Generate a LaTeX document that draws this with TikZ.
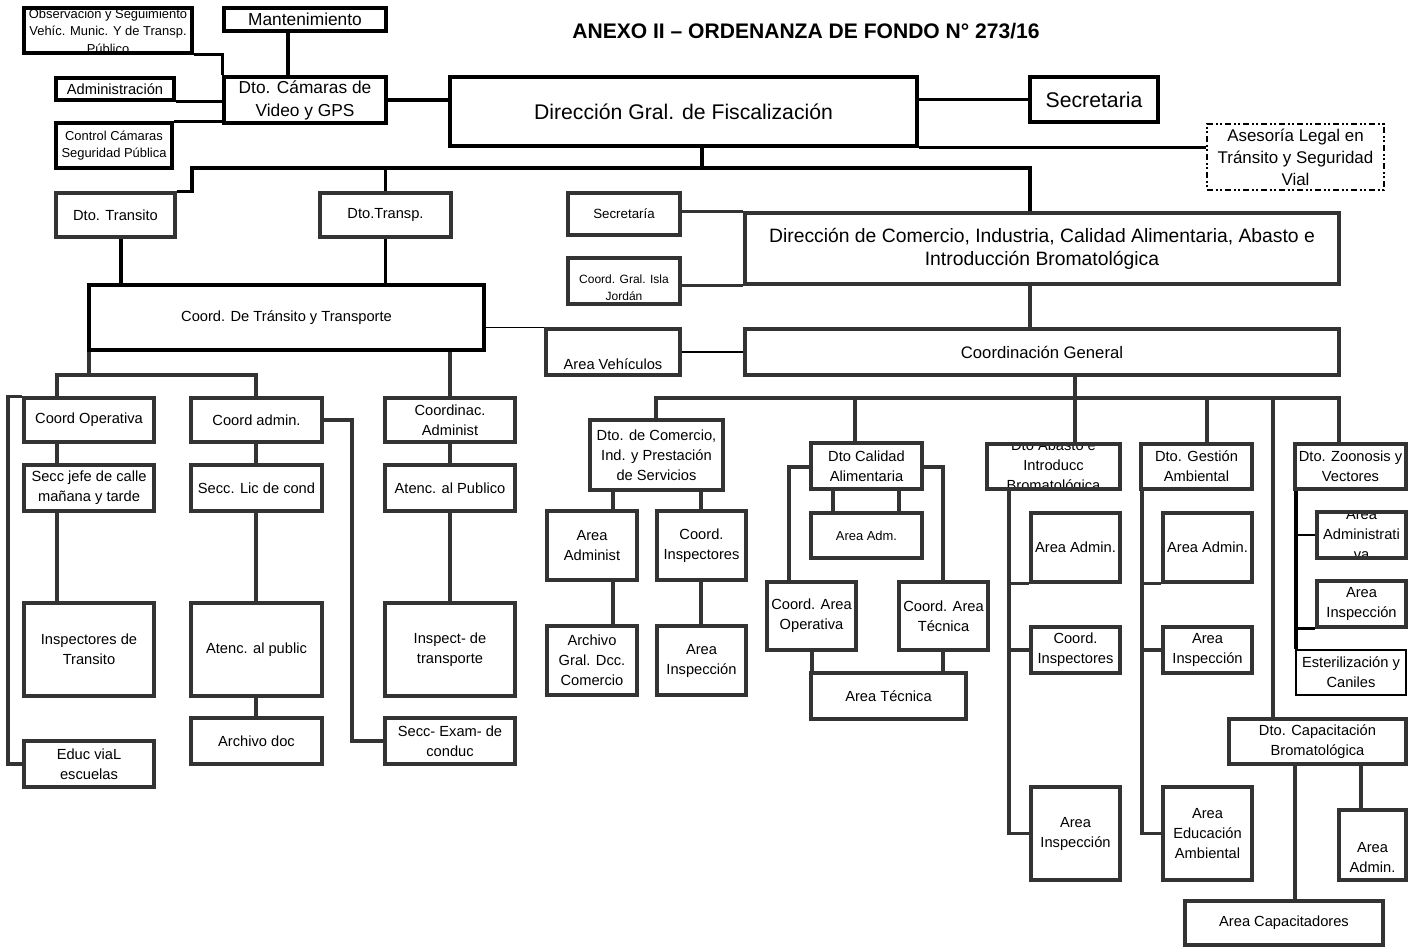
\documentclass[tikz,border=0pt]{standalone}
\usepackage{fontspec}
\setmainfont{Liberation Sans}
\usetikzlibrary{calc}
\definecolor{dg}{gray}{0.2}
\tikzset{
  tN/.style={font=\fontsize{11}{15}\selectfont},
  tS/.style={font=\fontsize{9.7}{13.2}\selectfont},
  tXS/.style={font=\fontsize{9}{12.75}\selectfont},
  tM/.style={font=\fontsize{12.5}{16}\selectfont},
  tB/.style={font=\fontsize{13}{17.25}\selectfont},
  tH/.style={font=\fontsize{15.9}{19}\selectfont},
  orgbx/.style={draw=dg, line width=2.6pt, inner sep=0pt, align=center, tN},
  bk/.style={draw=black},
  dashbx/.style={draw=black, line width=2pt, dash pattern=on 4.5pt off 2pt on 1.5pt off 2pt on 1.5pt off 2pt},
  cline/.style={draw=dg, line width=2.6pt},
  kline/.style={draw=black, line width=2.6pt},
  tline/.style={draw=black, line width=1pt},
}
\newcommand{\orgbox}[7][]{%
  \pgfmathsetmacro{\obcx}{(#3+#5)/2}%
  \pgfmathsetmacro{\obcy}{(#4+#6)/2}%
  \pgfmathsetmacro{\obw}{(#5-#3)*0.75}%
  \pgfmathsetmacro{\obh}{(#6-#4)*0.75}%
  \node[orgbx,minimum width=\obw pt,minimum height=\obh pt,#1] (#2) at (\obcx,\obcy) {#7};}
\begin{document}
\begin{tikzpicture}[x=0.75pt,y=-0.75pt]
\useasboundingbox (0,0) rectangle (1416,947);

% title
\node[font=\bfseries\fontsize{15.8}{18}\selectfont] (title) at (806,31) {ANEXO II – ORDENANZA DE FONDO N° 273/16};

% ---------- top group
\begin{scope}
\clip (24,8) rectangle (192,53);
\node[align=center, font=\fontsize{9.7}{13}\selectfont] (obs-t) at (108,31) {Observación y Seguimiento\\Vehíc. Munic. Y de Transp.\\Público};
\end{scope}
\orgbox[bk]{obs}{24}{8}{192}{53}{}
\orgbox[bk,tB]{mant}{224}{8}{386}{31}{Mantenimiento}
\orgbox[bk]{adm}{56}{78}{174}{100}{Administración}
\orgbox[bk,tB]{cam}{224}{77}{386}{123}{Dto. Cámaras de\\Video y GPS}
\orgbox[bk,tS]{ctrl}{56}{123}{172}{168}{Control Cámaras\\Seguridad Pública}
\orgbox[bk,tH]{dir}{450}{77}{917}{146}{Dirección Gral. de Fiscalización}
\orgbox[bk,tH]{sec}{1030}{77}{1158}{122}{Secretaria}
\orgbox[dashbx,font=\fontsize{12.7}{16.5}\selectfont]{ase}{1207}{124}{1384}{190}{Asesoría Legal en\\Tránsito y Seguridad\\Vial}

\coordinate (m1) at (288,20);
\draw[kline] (obs.south east) -- (obs.south east -| cam.west) -- (cam.north west);
\draw[kline] (m1 |- mant.south) -- (m1 |- cam.north);
\draw[kline] (adm.south east) -- (adm.south east -| cam.west);
\draw[kline] (ctrl.north east) -- (ctrl.north east -| cam.west);
\draw[kline] (cam.east) -- (cam.east -| dir.west);
\draw[kline] (dir.east |- sec.west) -- (sec.west);
\draw[kline] (dir.south east) -- (dir.south east -| ase.west);

% ---------- second level
\orgbox{dtr}{56}{193}{175}{237}{Dto. Transito}
\orgbox{dtp}{320}{193}{451}{237}{Dto.Transp.}
\orgbox[bk]{ctt}{89}{285}{484}{350}{Coord. De Tránsito y Transporte}
\orgbox[font=\fontsize{10}{13}\selectfont]{sec3}{568}{193}{680}{235}{Secretaría}
\orgbox{isla}{568}{258}{680}{304}{}
\node[tXS, align=center] (isla-t) at ([yshift=-4.9pt]isla.center) {Coord. Gral. Isla\\Jordán};
\orgbox[font=\fontsize{14.5}{17.25}\selectfont]{dcom}{745}{213}{1339}{284}{Dirección de Comercio, Industria, Calidad Alimentaria, Abasto e\\Introducción Bromatológica}
\orgbox{av}{546}{329}{680}{375}{}
\node[tN, anchor=south] (av-t) at ([yshift=2pt]av.south) {Area Vehículos};
\orgbox[tM]{cg}{745}{329}{1339}{375}{Coordinación General}

\coordinate (tj) at (702,168);
\coordinate (tl) at (192,168);
\coordinate (tr) at (1030,168);
\draw[kline] (tj |- dir.south) -- (tj);
\draw[kline] (dtr.north east) -- (dtr.north east -| tl) -- (tl) -- (tr) -- (tr |- dcom.north);
\draw[kline] (dtp.north) -- (dtp.north |- tl);
\coordinate (x121) at (121,0);
\draw[kline] (x121 |- dtr.south) -- (x121 |- ctt.north);
\draw[kline] (dtp.south) -- (dtp.south |- ctt.north);
\draw[cline] (dcom.north west -| sec3.east) -- (dcom.north west);
\draw[cline] (dcom.south west -| isla.east) -- (dcom.south west);
\draw[cline] (tr |- dcom.south) -- (tr |- cg.north);
\draw[tline] (ctt.east |- av.north) -- (av.north west);
\draw[tline] (av.east) -- (cg.west);

% ---------- left group
\orgbox{co}{24}{398}{154}{442}{Coord Operativa}
\orgbox{sj}{24}{465}{154}{511}{Secc jefe de calle\\mañana y tarde}
\orgbox{it}{24}{603}{154}{696}{Inspectores de\\Transito}
\orgbox{ev}{24}{741}{154}{787}{Educ viaL\\escuelas}
\orgbox{ca}{191}{398}{322}{442}{Coord admin.}
\orgbox{slc}{191}{465}{322}{511}{Secc. Lic de cond}
\orgbox{ap}{191}{603}{322}{696}{Atenc. al public}
\orgbox{ad}{191}{718}{322}{764}{Archivo doc}
\orgbox{cadm}{385}{398}{515}{442}{Coordinac.\\Administ}
\orgbox{apu}{385}{465}{515}{511}{Atenc. al Publico}
\orgbox{ipt}{385}{603}{515}{696}{Inspect- de\\transporte}
\orgbox{sec2}{385}{718}{515}{764}{Secc- Exam- de\\conduc}

\coordinate (lb0) at (89,375);
\coordinate (lb1) at (57,375);
\coordinate (lb2) at (256,375);
\coordinate (x450) at (450,0);
\coordinate (x8) at (8,0);
\coordinate (x352) at (352,0);
\draw[cline] (lb0 |- ctt.south) -- (lb0);
\draw[cline] (lb1 |- co.north) -- (lb1) -- (lb2) -- (lb2 |- ca.north);
\draw[cline] (x450 |- ctt.south) -- (x450 |- cadm.north);
\draw[cline] (lb1 |- co.south) -- (lb1 |- sj.north);
\draw[cline] (lb1 |- sj.south) -- (lb1 |- it.north);
\draw[cline] (co.north west) -- (x8 |- co.north) -- (x8 |- ev.west) -- (ev.west);
\draw[cline] (lb2 |- ca.south) -- (lb2 |- slc.north);
\draw[cline] (lb2 |- slc.south) -- (lb2 |- ap.north);
\draw[cline] (lb2 |- ap.south) -- (lb2 |- ad.north);
\draw[cline] (ca.east) -- (x352 |- ca.east) -- (x352 |- sec2.west) -- (sec2.west);
\draw[cline] (x450 |- cadm.south) -- (x450 |- apu.north);
\draw[cline] (x450 |- apu.south) -- (x450 |- ipt.north);

% ---------- bus under Coordinacion General
\orgbox{dcs}{590}{420}{723}{490}{Dto. de Comercio,\\Ind. y Prestación\\de Servicios}
\orgbox{dca}{811}{443}{922}{489}{Dto Calidad\\Alimentaria}
\orgbox{dga}{1141}{444}{1252}{489}{Dto. Gestión\\Ambiental}
\orgbox{dzo}{1295}{444}{1406}{489}{Dto. Zoonosis y\\Vectores}
\orgbox{dcb}{1229}{719}{1406}{764}{Dto. Capacitación\\Bromatológica}
\begin{scope}
\clip (987,444) rectangle (1120,489);
\node[tN, align=center] (dab-t) at (1053.5,466.5) {Dto Abasto e\\Introducc\\Bromatológica};
\end{scope}
\orgbox{dab}{987}{444}{1120}{489}{}

\coordinate (rb) at (1075,398);
\coordinate (rb1) at (656,398);
\coordinate (rb6) at (1339,398);
\coordinate (x855) at (855,398);
\coordinate (x1207) at (1207,398);
\coordinate (x1273) at (1273,398);
\draw[cline] (rb |- cg.south) -- (rb);
\draw[cline] (rb1 |- dcs.north) -- (rb1) -- (rb6) -- (rb6 |- dzo.north);
\draw[cline] (x855) -- (x855 |- dca.north);
\draw[cline] (rb) -- (rb |- dab.north);
\draw[cline] (x1207) -- (x1207 |- dga.north);
\draw[cline] (x1273) -- (x1273 |- dcb.north);

% ---------- Comercio
\orgbox{aad}{547}{511}{637}{580}{Area\\Administ}
\orgbox{cin}{657}{511}{746}{580}{Coord.\\Inspectores}
\orgbox{agc}{547}{626}{637}{695}{Archivo\\Gral. Dcc.\\Comercio}
\orgbox{ains}{657}{626}{746}{695}{Area\\Inspección}
\coordinate (x613) at (613,0);
\coordinate (x701) at (701,0);
\draw[cline] (x613 |- dcs.south) -- (x613 |- aad.north);
\draw[cline] (x613 |- aad.south) -- (x613 |- agc.north);
\draw[cline] (x701 |- dcs.south) -- (x701 |- cin.north);
\draw[cline] (x701 |- cin.south) -- (x701 |- ains.north);

% ---------- Calidad
\orgbox[tS]{aam}{811}{513}{922}{558}{Area Adm.}
\orgbox{cao}{767}{582}{856}{650}{Coord. Area\\Operativa}
\orgbox{cat}{899}{582}{988}{650}{Coord. Area\\Técnica}
\orgbox{atec}{811}{673}{966}{719}{Area Técnica}
\coordinate (x833) at (833,0);
\coordinate (x899) at (899,0);
\coordinate (x789) at (789,467);
\coordinate (x943) at (943,467);
\coordinate (x812) at (812,0);
\draw[cline] (x833 |- dca.south) -- (x833 |- aam.north);
\draw[cline] (x899 |- dca.south) -- (x899 |- aam.north);
\draw[cline] (dca.west |- x789) -- (x789) -- (x789 |- cao.north);
\draw[cline] (dca.east |- x943) -- (x943) -- (x943 |- cat.north);
\draw[cline] (x812 |- cao.south) -- (x812 |- atec.north);
\draw[cline] (x943 |- cat.south) -- (x943 |- atec.north);

% ---------- Abasto
\orgbox{aada}{1031}{513}{1120}{582}{Area Admin.}
\orgbox{cina}{1031}{627}{1120}{673}{Coord.\\Inspectores}
\orgbox{ainsa}{1031}{787}{1120}{880}{Area\\Inspección}
\coordinate (x1009) at (1009,0);
\draw[cline] (x1009 |- dab.south) -- (x1009 |- ainsa.west) -- (ainsa.west);
\draw[cline] (x1009 |- aada.south west) -- (aada.south west);
\draw[cline] (x1009 |- cina.west) -- (cina.west);

% ---------- Gestion
\orgbox{aadg}{1163}{513}{1252}{582}{Area Admin.}
\orgbox{ainsg}{1163}{627}{1252}{673}{Area\\Inspección}
\orgbox{aedg}{1163}{787}{1252}{880}{Area\\Educación\\Ambiental}
\coordinate (x1142) at (1142,0);
\draw[cline] (x1142 |- dga.south) -- (x1142 |- aedg.west) -- (aedg.west);
\draw[cline] (x1142 |- aadg.south west) -- (aadg.south west);
\draw[cline] (x1142 |- ainsg.west) -- (ainsg.west);

% ---------- Zoonosis
\begin{scope}
\clip (1317,512) rectangle (1406,558);
\node[tN, align=center] (aadz-t) at (1361.5,535) {Area\\Administrati\\va};
\end{scope}
\orgbox{aadz}{1317}{512}{1406}{558}{}
\orgbox{ainsz}{1317}{581}{1406}{627}{Area\\Inspección}
\orgbox[draw=black,line width=1.8pt]{este}{1296}{650}{1406}{695}{Esterilización y\\Caniles}
\coordinate (x1296) at (1296,0);
\draw[kline] (x1296 |- dzo.south) -- (x1296 |- este.north);
\draw[tline] (x1296 |- aadz.west) -- (aadz.west);
\draw[kline] (x1296 |- ainsz.south west) -- (ainsz.south west);

% ---------- Capacitacion
\orgbox{aadc}{1339}{810}{1406}{880}{}
\node[tN, align=center] (aadc-t) at ([yshift=-9.4pt]aadc.center) {Area\\Admin.};
\orgbox{acap}{1185}{901}{1383}{945}{Area Capacitadores}
\coordinate (x1295) at (1295,0);
\coordinate (x1361) at (1361,0);
\draw[cline] (x1295 |- dcb.south) -- (x1295 |- acap.north);
\draw[cline] (x1361 |- dcb.south) -- (x1361 |- aadc.north);

\end{tikzpicture}
\end{document}
